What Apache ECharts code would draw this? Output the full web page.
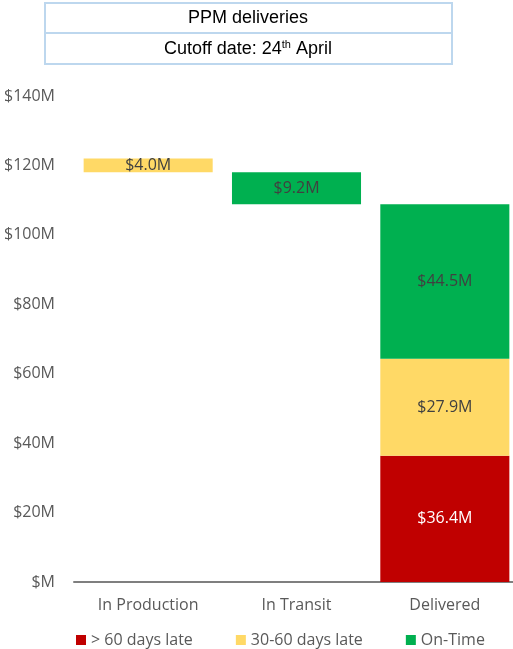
<!DOCTYPE html>
<html>
<head>
<meta charset="utf-8">
<script src="https://cdn.jsdelivr.net/npm/echarts@6/dist/echarts.min.js"></script>
<style>
  html, body { margin: 0; padding: 0; background: #fff; overflow: hidden; }
  /* the plot area runs a few px past the right edge, as in the original */
  #chart { width: 519px; height: 649px; }
</style>
</head>
<body>
<div id="chart"></div>
<script>
// PPM deliveries by status ($M)
const categories = ['In Production', 'In Transit', 'Delivered'];
const lateValues = [0, 0, 36.4];        // > 60 days late
const midLateValues = [4.0, 0, 27.9];   // 30-60 days late
const onTimeValues = [0, 9.2, 44.5];    // On-Time
const yTicks = [0, 20, 40, 60, 80, 100, 120, 140];

// waterfall: each stage floats on top of the stages to its right
const totals = categories.map((_, i) => lateValues[i] + midLateValues[i] + onTimeValues[i]);
const baseValues = categories.map((_, i) => {
    let s = 0;
    for (let j = i + 1; j < totals.length; j++) s += totals[j];
    return +s.toFixed(1);
});

const FONT = '"Open Sans", Lato, sans-serif';
const fmt = v => '$' + v.toFixed(1) + 'M';

function stackSeries(name, values, color, labelColor) {
    return {
        name: name,
        type: 'bar',
        stack: 'total',
        barCategoryGap: '13%',
        itemStyle: { color: color },
        label: {
            show: true,
            position: 'inside',
            color: labelColor,
            fontFamily: FONT,
            fontSize: 16,
            formatter: p => fmt(p.value)
        },
        data: values.map(v => (v ? v : '-'))
    };
}

const chart = echarts.init(document.getElementById('chart'));

chart.setOption({
    animation: false,
    textStyle: { fontFamily: FONT },
    graphic: [
        {
            type: 'rect',
            shape: { x: 45, y: 3, width: 407, height: 30 },
            style: { fill: '#fff', stroke: '#BDD7EE', lineWidth: 2 }
        },
        {
            type: 'rect',
            shape: { x: 45, y: 33, width: 407, height: 31 },
            style: { fill: '#fff', stroke: '#BDD7EE', lineWidth: 2 }
        },
        {
            type: 'text',
            x: 248, y: 18,
            style: {
                text: 'PPM deliveries',
                font: '18px "Liberation Sans", Arial, sans-serif',
                fill: '#000',
                align: 'center',
                verticalAlign: 'middle'
            }
        },
        {
            type: 'text',
            x: 248, y: 49,
            style: {
                text: 'Cutoff date: 24{sup|th} April',
                font: '18px "Liberation Sans", Arial, sans-serif',
                fill: '#000',
                align: 'center',
                verticalAlign: 'middle',
                rich: {
                    sup: {
                        font: '11px "Liberation Sans", Arial, sans-serif',
                        fill: '#000',
                        verticalAlign: 'top',
                        padding: [0, 0, 8, 0]
                    }
                }
            }
        }
    ],
    legend: {
        left: 76,
        top: 632,
        padding: 0,
        itemWidth: 10,
        itemHeight: 10,
        itemGap: 43,
        icon: 'rect',
        data: ['> 60 days late', '30-60 days late', 'On-Time'],
        textStyle: { color: '#595959', fontSize: 16, fontFamily: FONT }
    },
    grid: { left: 74, right: 0, top: 96, bottom: 67 },
    xAxis: {
        type: 'category',
        data: categories,
        axisTick: { show: false },
        axisLine: { lineStyle: { color: '#7F7F7F', width: 2 } },
        axisLabel: { color: '#595959', fontSize: 16, margin: 15, fontFamily: FONT }
    },
    yAxis: {
        type: 'value',
        min: yTicks[0],
        max: yTicks[yTicks.length - 1],
        interval: 20,
        splitLine: { show: false },
        axisLine: { show: false },
        axisTick: { show: false },
        axisLabel: {
            color: '#595959',
            fontSize: 16,
            margin: 19,
            fontFamily: FONT,
            formatter: v => (v === 0 ? '$M' : '$' + v + 'M')
        }
    },
    series: [
        {
            name: 'base',
            type: 'bar',
            stack: 'total',
            barCategoryGap: '13%',
            silent: true,
            itemStyle: { color: 'transparent' },
            data: baseValues.map(v => (v ? v : '-'))
        },
        stackSeries('> 60 days late', lateValues, '#C00000', '#fff'),
        stackSeries('30-60 days late', midLateValues, '#FFD966', '#404040'),
        stackSeries('On-Time', onTimeValues, '#00B050', '#404040')
    ]
});
</script>
</body>
</html>
